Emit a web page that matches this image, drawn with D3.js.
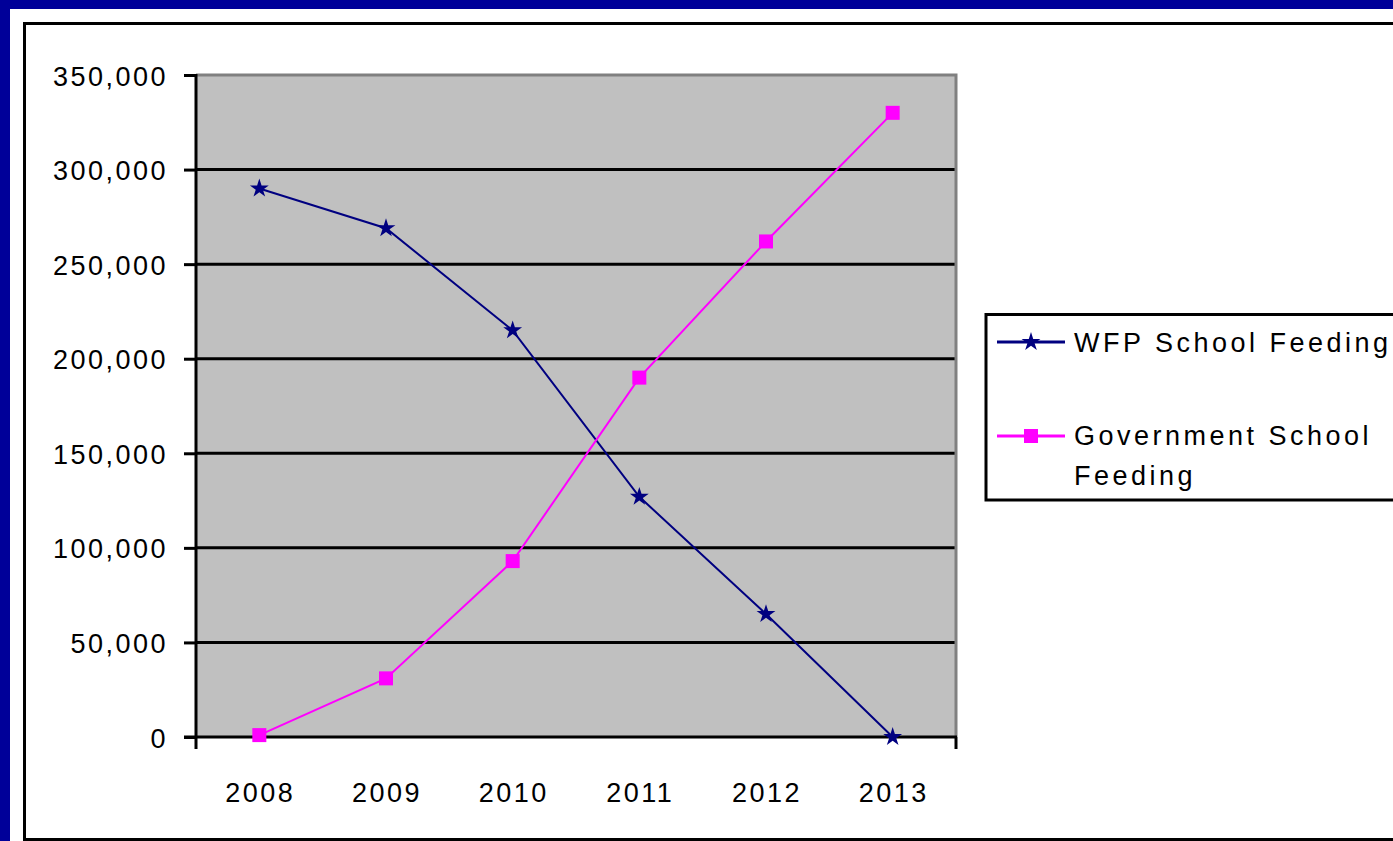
<!DOCTYPE html>
<html>
<head>
<meta charset="utf-8">
<script src="https://cdn.jsdelivr.net/npm/d3@7"></script>
<style>
  body { margin: 0; background: #fff; }
  text { font-family: "Liberation Sans", Arial, sans-serif; fill: #000; }
</style>
</head>
<body>
<svg id="chart" width="1393" height="841"></svg>
<script>
const years = [2008, 2009, 2010, 2011, 2012, 2013];
const wfpValues = [290000, 269000, 215000, 127000, 65000, 0];
const govValues = [1000, 31000, 93000, 190000, 262000, 330000];
const yTicks = [0, 50000, 100000, 150000, 200000, 250000, 300000, 350000];
const seriesNames = ["WFP School Feeding", "Government School Feeding"];

const navy = "#000080";
const magenta = "#FF00FF";

const svg = d3.select("#chart");

// blue frame + white page + black chart border
svg.append("rect").attr("width", 1393).attr("height", 841).attr("fill", "#000099");
svg.append("rect").attr("x", 10).attr("y", 9).attr("width", 1400).attr("height", 900).attr("fill", "#fff");
svg.append("rect")
  .attr("x", 24.5).attr("y", 23.5)
  .attr("width", 1400).attr("height", 816)
  .attr("fill", "none").attr("stroke", "#000").attr("stroke-width", 3);

const plot = { left: 196, right: 956, top: 75, bottom: 737 };

const x = d3.scaleBand().domain(years).range([plot.left, plot.right]);
const y = d3.scaleLinear().domain([0, 350000]).range([plot.bottom, plot.top]);

// plot background
svg.append("rect")
  .attr("x", plot.left).attr("y", plot.top)
  .attr("width", plot.right - plot.left).attr("height", plot.bottom - plot.top)
  .attr("fill", "#C0C0C0");

// gridlines
svg.append("g")
  .selectAll("line")
  .data(yTicks.filter(d => d > 0 && d < 350000))
  .join("line")
  .attr("x1", plot.left).attr("x2", plot.right)
  .attr("y1", d => y(d)).attr("y2", d => y(d))
  .attr("stroke", "#000").attr("stroke-width", 3);

// gray top/right border
svg.append("path")
  .attr("d", `M${plot.left},${plot.top}H${plot.right}V${plot.bottom}`)
  .attr("fill", "none").attr("stroke", "#808080").attr("stroke-width", 3);

// y axis
const yAxis = svg.append("g")
  .attr("transform", `translate(${plot.left},0)`)
  .call(d3.axisLeft(y).tickValues(yTicks).tickSize(12).tickPadding(16)
    .tickFormat(d3.format(",")));
yAxis.select(".domain").remove();
yAxis.selectAll(".tick line").attr("stroke", "#000").attr("stroke-width", 3);
yAxis.selectAll(".tick text")
  .attr("font-size", 27).attr("letter-spacing", 2.5)
  .attr("dy", "0.37em")
  .attr("fill", "#000");
yAxis.append("line")
  .attr("x1", 0).attr("x2", 0).attr("y1", plot.top - 1).attr("y2", plot.bottom + 12)
  .attr("stroke", "#000").attr("stroke-width", 3);

// x axis
const xAxis = svg.append("g")
  .attr("transform", `translate(0,${plot.bottom})`)
  .call(d3.axisBottom(x).tickSize(0).tickPadding(46));
xAxis.select(".domain").remove();
xAxis.selectAll(".tick text")
  .attr("font-size", 27).attr("letter-spacing", 2.5)
  .attr("dx", 1)
  .attr("fill", "#000");
xAxis.append("line")
  .attr("x1", plot.left - 12).attr("x2", plot.right + 1).attr("y1", 0).attr("y2", 0)
  .attr("stroke", "#000").attr("stroke-width", 3);
xAxis.append("line")
  .attr("x1", plot.right).attr("x2", plot.right).attr("y1", 0).attr("y2", 12)
  .attr("stroke", "#000").attr("stroke-width", 3);

const cx = d => x(d) + x.bandwidth() / 2;
const line = d3.line().x(d => cx(d[0])).y(d => y(d[1]));

const wfpData = years.map((yr, i) => [yr, wfpValues[i]]);
const govData = years.map((yr, i) => [yr, govValues[i]]);

svg.append("path").datum(wfpData).attr("d", line)
  .attr("fill", "none").attr("stroke", navy).attr("stroke-width", 2);
svg.append("path").datum(govData).attr("d", line)
  .attr("fill", "none").attr("stroke", magenta).attr("stroke-width", 2);

const star = d3.symbol().type(d3.symbolStar).size(110);

svg.append("g").selectAll("path")
  .data(wfpData).join("path")
  .attr("d", star)
  .attr("transform", d => `translate(${cx(d[0])},${y(d[1])})`)
  .attr("fill", navy);

svg.append("g").selectAll("rect")
  .data(govData).join("rect")
  .attr("x", d => cx(d[0]) - 7).attr("y", d => y(d[1]) - 7)
  .attr("width", 14).attr("height", 14)
  .attr("fill", magenta);

// legend
const legend = svg.append("g");
legend.append("rect")
  .attr("x", 986).attr("y", 314.5).attr("width", 500).attr("height", 185.5)
  .attr("fill", "#fff").attr("stroke", "#000").attr("stroke-width", 3);

legend.append("line")
  .attr("x1", 997).attr("x2", 1065).attr("y1", 342).attr("y2", 342)
  .attr("stroke", navy).attr("stroke-width", 3);
legend.append("path").attr("d", star).attr("transform", "translate(1031,342)").attr("fill", navy);
legend.append("text")
  .attr("x", 1074).attr("y", 352)
  .attr("font-size", 27).attr("letter-spacing", 3.5)
  .text(seriesNames[0]);

legend.append("line")
  .attr("x1", 997).attr("x2", 1065).attr("y1", 436).attr("y2", 436)
  .attr("stroke", magenta).attr("stroke-width", 3);
legend.append("rect").attr("x", 1024).attr("y", 429).attr("width", 14).attr("height", 14).attr("fill", magenta);

const govWords = seriesNames[1].split(" ");
legend.append("text")
  .attr("x", 1074).attr("y", 445)
  .attr("font-size", 27).attr("letter-spacing", 3.5)
  .text(govWords.slice(0, 2).join(" "));
legend.append("text")
  .attr("x", 1074).attr("y", 485)
  .attr("font-size", 27).attr("letter-spacing", 3.5)
  .text(govWords[2]);
</script>
</body>
</html>
